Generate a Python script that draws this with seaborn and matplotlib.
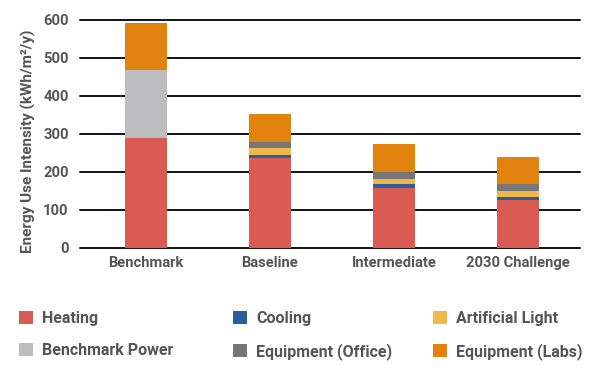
import pandas as pd
import numpy as np
import matplotlib.pyplot as plt
import seaborn as sns
from matplotlib.patches import Patch

sns.set_theme(style="white")
plt.rcParams['font.family'] = ['Roboto', 'DejaVu Sans']

# Data (kWh/m2/y)
scenarios = ["Benchmark", "Baseline", "Intermediate", "2030 Challenge"]
heating = [288, 237, 159, 126]
cooling = [0, 8, 9, 7]
artificial_light = [0, 17, 14, 17]
benchmark_power = [180, 0, 0, 0]
equipment_office = [0, 17, 18, 17]
equipment_labs = [125, 73, 74, 73]

series = {
    "Heating": heating,
    "Cooling": cooling,
    "Artificial Light": artificial_light,
    "Benchmark Power": benchmark_power,
    "Equipment (Office)": equipment_office,
    "Equipment (Labs)": equipment_labs,
}
colors = {
    "Heating": "#d95b52",
    "Cooling": "#2a5f9e",
    "Artificial Light": "#f0b84a",
    "Benchmark Power": "#bdbdbf",
    "Equipment (Office)": "#77777a",
    "Equipment (Labs)": "#e3830f",
}
txt = "#555555"

df = pd.DataFrame(series, index=scenarios)
cum = df.cumsum(axis=1)

fig = plt.figure(figsize=(6, 3.7), dpi=100)
ax = fig.add_axes([0.133, 0.330, 0.834, 0.616])

# stacked bars: draw cumulative totals from top down
for name in reversed(list(series.keys())):
    sns.barplot(x=scenarios, y=cum[name].values, color=colors[name],
                width=0.34, linewidth=0, saturation=1, ax=ax, zorder=3)

ax.set_xlim(-0.53, 3.50)
ax.set_ylim(0, 600)
ax.set_yticks(np.arange(0, 601, 100))
for y in np.arange(0, 601, 100):
    ax.axhline(y, color="#111111", lw=1.4, zorder=1, clip_on=False)
sns.despine(ax=ax, left=True, bottom=True)
ax.tick_params(axis="both", length=0, labelsize=10.6, labelcolor=txt)
ax.tick_params(axis="y", pad=8)
ax.tick_params(axis="x", pad=6)
for lab in ax.get_xticklabels() + ax.get_yticklabels():
    lab.set_fontweight("bold")
ax.set_ylabel("Energy Use Intensity (kWh/m²/y)", fontsize=11,
              color=txt, fontweight="bold")
ax.yaxis.set_label_coords(-0.088, 0.47)

# legend: three fixed columns, two rows each
columns = [["Heating", "Benchmark Power"],
           ["Cooling", "Equipment (Office)"],
           ["Artificial Light", "Equipment (Labs)"]]
col_x = [19, 233, 433]
for names, x in zip(columns, col_x):
    handles = [Patch(facecolor=colors[n], edgecolor="none", label=n) for n in names]
    leg = fig.legend(handles=handles, loc="upper left",
                     bbox_to_anchor=(x / 600, 1 - 311 / 370), frameon=False,
                     borderpad=0, borderaxespad=0,
                     fontsize=11.5, handlelength=0.85, handleheight=0.85,
                     handletextpad=0.6, labelspacing=1.06)
    for t in leg.get_texts():
        t.set_color(txt)
        t.set_fontweight("bold")

fig.savefig("out.png", dpi=100)
